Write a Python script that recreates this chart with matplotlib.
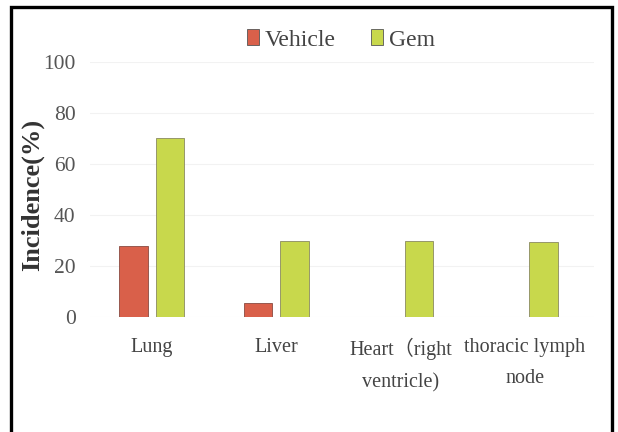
import matplotlib
matplotlib.use("Agg")
import matplotlib.pyplot as plt
import numpy as np
from matplotlib.patches import Rectangle, Patch

categories = ["Lung", "Liver", "Heart（right\nventricle)", "thoracic lymph\nnode"]
vehicle = [28, 5.5, 0, 0]
gem = [70, 30, 30, 29.5]
yticks = [0, 20, 40, 60, 80, 100]

W, H = 618, 432
fig = plt.figure(figsize=(W/100, H/100), dpi=100)
fonts = ["Liberation Serif", "Noto Sans CJK SC", "DejaVu Sans"]
plt.rcParams['font.family'] = fonts

ax = fig.add_axes([89.5/W, 1-317/H, (593.5-89.5)/W, (317-62)/H])
x = np.arange(len(categories))
bw = 0.23
off = 0.147
ax.bar(x - off, vehicle, bw, color="#D9604A", edgecolor="#8a4a40", linewidth=0.6, label="Vehicle", zorder=3)
ax.bar(x + off, gem, bw, color="#C8D84C", edgecolor="#8a8a60", linewidth=0.6, label="Gem", zorder=3)
ax.set_xlim(-0.5, 3.55)
ax.set_ylim(0, 100)
ax.set_yticks(yticks)
ax.set_yticklabels([str(v) for v in yticks], fontsize=15.5, color="#555555")
ax.set_xticks(x)
ax.set_xticklabels(categories, fontsize=14.5, color="#444444", linespacing=1.9, va="top")
ax.tick_params(axis="y", length=0, pad=10)
ax.tick_params(axis="x", length=0, pad=15)
for s in ax.spines.values():
    s.set_visible(False)
ax.grid(axis="y", color="#f2f2f2", linewidth=0.8, zorder=0)

fig.text(32/W, 1-195/H, "Incidence(%)", rotation=90, ha="center", va="center",
         fontsize=19, fontweight="bold", color="#333333")

handles = [Patch(facecolor="#D9604A", edgecolor="#555555", linewidth=0.6),
           Patch(facecolor="#C8D84C", edgecolor="#555555", linewidth=0.6)]
fig.legend(handles, ["Vehicle", "Gem"], loc="center", bbox_to_anchor=(341/W, 1-40/H),
           ncol=2, frameon=False, fontsize=17, handlelength=0.5, handleheight=0.65,
           handletextpad=0.25, columnspacing=1.5, labelcolor="#444444")

fig.patches.append(Rectangle((11/W, -0.05), (612-11)/W, 1.05-7/H, transform=fig.transFigure,
                             fill=False, edgecolor="black", linewidth=2.4))
fig.savefig("out.png", dpi=100, facecolor="white")
